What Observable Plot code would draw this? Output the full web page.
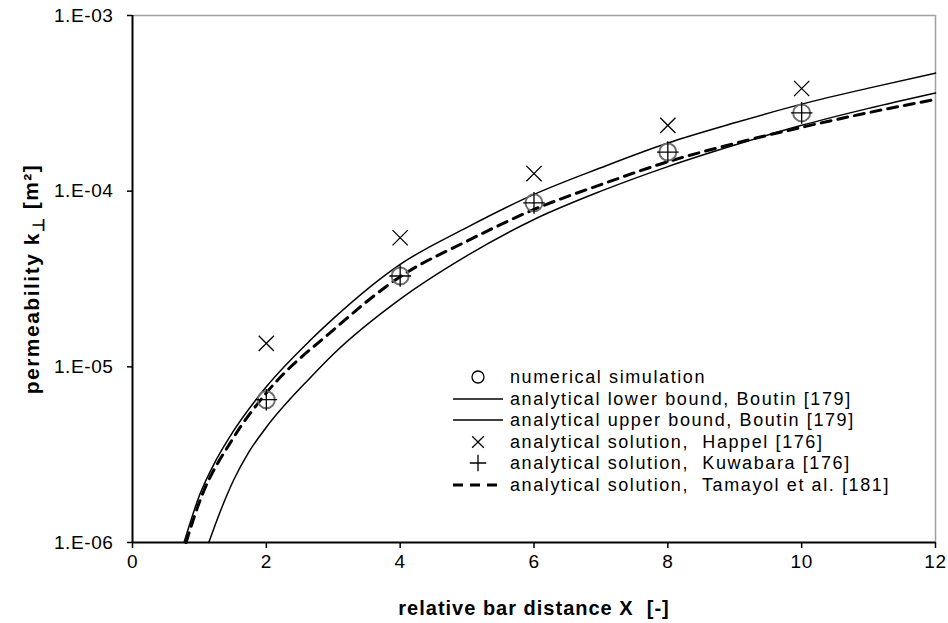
<!DOCTYPE html>
<html>
<head>
<meta charset="utf-8">
<script src="https://cdn.jsdelivr.net/npm/d3@7"></script>
<script src="https://cdn.jsdelivr.net/npm/@observablehq/plot@0.6"></script>
<style>
  body { margin: 0; background: white; font-family: "Liberation Sans", Arial, sans-serif; }
  #wrap { position: relative; width: 948px; height: 623px; }
  #legend { position: absolute; left: 0; top: 0; font-size: 18px; letter-spacing: 1.6px; color: #000; }
  .row { position: absolute; left: 450px; height: 22px; line-height: 22px; white-space: pre; }
  .row svg { position: absolute; left: 0; top: 0; }
  .row span { position: absolute; left: 60px; top: 0; }
</style>
</head>
<body>
<div id="wrap"></div>
<script>
// ---- data ----
const simX = [2, 4, 6, 8, 10];
const simY = [6.5e-6, 3.29e-5, 8.58e-5, 1.67e-4, 2.79e-4];
const happelY = [1.36e-5, 5.43e-5, 1.26e-4, 2.37e-4, 3.84e-4];
const kuwabaraY = [6.5e-6, 3.29e-5, 8.58e-5, 1.67e-4, 2.79e-4];

const upperX = [0.77, 1, 1.25, 1.5, 2, 2.66, 3, 4, 5, 6, 7, 8, 9, 10, 11, 12];
const upperY = [1e-6, 1.85e-6, 2.95e-6, 4.26e-6, 7.7e-6, 1.42e-5, 1.88e-5, 3.83e-5, 6.22e-5, 9.58e-5, 1.36e-4, 1.88e-4, 2.45e-4, 3.13e-4, 3.86e-4, 4.7e-4];

const lowerX = [1.14, 1.29, 1.51, 1.74, 2, 2.66, 3, 4, 5, 6, 7, 8, 9, 10, 11, 12];
const lowerY = [1e-6, 1.43e-6, 2.26e-6, 3.28e-6, 4.53e-6, 8.7e-6, 1.18e-5, 2.43e-5, 4.3e-5, 6.9e-5, 1.0e-4, 1.38e-4, 1.83e-4, 2.37e-4, 2.96e-4, 3.62e-4];

const tamayolX = [0.8, 1, 1.5, 2, 3, 4, 5, 6, 7, 8, 9, 10, 11, 12];
const tamayolY = [1e-6, 1.7e-6, 3.9e-6, 7.1e-6, 1.62e-5, 3.26e-5, 5.2e-5, 7.87e-5, 1.09e-4, 1.47e-4, 1.87e-4, 2.31e-4, 2.8e-4, 3.33e-4];

const xTicks = [0, 2, 4, 6, 8, 10, 12];
const yTicks = [1e-6, 1e-5, 1e-4, 1e-3];
const yTickLabels = ["1.E-06", "1.E-05", "1.E-04", "1.E-03"];

const legendLabels = [
  "numerical simulation",
  "analytical lower bound, Boutin [179]",
  "analytical upper bound, Boutin [179]",
  "analytical solution,  Happel [176]",
  "analytical solution,  Kuwabara [176]",
  "analytical solution,  Tamayol et al. [181]"
];
const xTitle = "relative bar distance X  [-]";
const yTitle = "permeability k⊥ [m²]";

// ---- tables ----
const zip = (xs, ys) => xs.map((x, i) => ({x, y: ys[i]}));
const sim = zip(simX, simY);
const happel = zip(simX, happelY);
const kuwabara = zip(simX, kuwabaraY);
const upper = zip(upperX, upperY);
const lower = zip(lowerX, lowerY);
const tamayol = zip(tamayolX, tamayolY);

const chart = Plot.plot({
  width: 948,
  height: 623,
  marginLeft: 132,
  marginRight: 13,
  marginTop: 15,
  marginBottom: 81,
  style: {fontFamily: "'Liberation Sans', Arial, sans-serif", fontSize: "19px", background: "white", color: "black"},
  x: {domain: [0, 12]},
  y: {type: "log", domain: [1e-6, 1e-3]},
  marks: [
    Plot.ruleY([1e-3], {stroke: "#a0a0a0", strokeWidth: 1.5}),
    Plot.ruleX([12], {stroke: "#a0a0a0", strokeWidth: 1.5}),
    Plot.line(upper, {x: "x", y: "y", stroke: "black", strokeWidth: 1.5, curve: "monotone-x"}),
    Plot.line(lower, {x: "x", y: "y", stroke: "black", strokeWidth: 1.5, curve: "monotone-x"}),
    Plot.line(tamayol, {x: "x", y: "y", stroke: "black", strokeWidth: 3, strokeDasharray: "10,7", curve: "monotone-x"}),
    Plot.dot(sim, {x: "x", y: "y", r: 8.5, stroke: "#6e6e6e", strokeWidth: 2, fill: "none"}),
    Plot.dot(kuwabara, {x: "x", y: "y", symbol: "plus", r: 7, stroke: "black", strokeWidth: 1.3}),
    Plot.dot(happel, {x: "x", y: "y", symbol: "times", r: 7, stroke: "black", strokeWidth: 1.3}),
    Plot.ruleX([0], {stroke: "black", strokeWidth: 2}),
    Plot.ruleY([1e-6], {stroke: "black", strokeWidth: 2}),
    Plot.axisX({ticks: xTicks, tickSize: 6, tickPadding: 6, label: null, fontSize: 19, strokeWidth: 1.5, className: "tk"}),
    Plot.axisY({ticks: yTicks, tickFormat: d => yTickLabels[yTicks.indexOf(d)], tickSize: 5, tickPadding: 14, label: null, fontSize: 19, strokeWidth: 1.5, className: "tk"}),
    Plot.text([xTitle], {frameAnchor: "bottom", dy: 66, lineAnchor: "middle", textAnchor: "middle", fontWeight: "bold", fontSize: 20}),
    Plot.text([yTitle], {frameAnchor: "left", dx: -100, rotate: -90, lineAnchor: "middle", textAnchor: "middle", fontWeight: "bold", fontSize: 21})
  ]
});

document.getElementById("wrap").appendChild(chart);

// letter spacing for ticks and titles
d3.select(chart).selectAll("text").each(function() {
  const t = d3.select(this);
  const s = t.text();
  if (s === xTitle) t.style("letter-spacing", "1px");
  else if (s === yTitle) {
    const [pre, post] = yTitle.split("⊥");
    t.text(null).style("letter-spacing", "1.5px");
    t.append("tspan").text(pre);
    t.append("tspan").attr("dy", "0.3em").attr("font-size", "16px").text("⊥");
    t.append("tspan").attr("dy", "-0.3em").text(post);
  } else t.style("letter-spacing", "0.6px");
});

// ---- legend (HTML overlay) ----
const legend = d3.select("#wrap").append("div").attr("id", "legend");
const rowCenters = [377, 398.5, 420, 441.5, 463, 485];
const kinds = ["circle", "line", "line", "times", "plus", "dash"];
legendLabels.forEach((lab, i) => {
  const row = legend.append("div").attr("class", "row").style("top", (rowCenters[i] - 11) + "px");
  const s = row.append("svg").attr("width", 56).attr("height", 22);
  const cx = 28, cy = 11;
  const k = kinds[i];
  if (k === "circle") s.append("circle").attr("cx", cx).attr("cy", cy).attr("r", 6).attr("fill", "none").attr("stroke", "black").attr("stroke-width", 1.3);
  if (k === "line") s.append("line").attr("x1", 3).attr("x2", 53).attr("y1", cy).attr("y2", cy).attr("stroke", "black").attr("stroke-width", 1.5);
  if (k === "dash") s.append("line").attr("x1", 3).attr("x2", 53).attr("y1", cy).attr("y2", cy).attr("stroke", "black").attr("stroke-width", 3).attr("stroke-dasharray", "10,7");
  if (k === "times") s.append("path").attr("d", d3.symbol(d3.symbolTimes, 90)()).attr("transform", `translate(${cx},${cy})`).attr("fill", "none").attr("stroke", "black").attr("stroke-width", 1.3);
  if (k === "plus") s.append("path").attr("d", d3.symbol(d3.symbolPlus, 90)()).attr("transform", `translate(${cx},${cy})`).attr("fill", "none").attr("stroke", "black").attr("stroke-width", 1.3);
  row.append("span").text(lab);
});
</script>
</body>
</html>
